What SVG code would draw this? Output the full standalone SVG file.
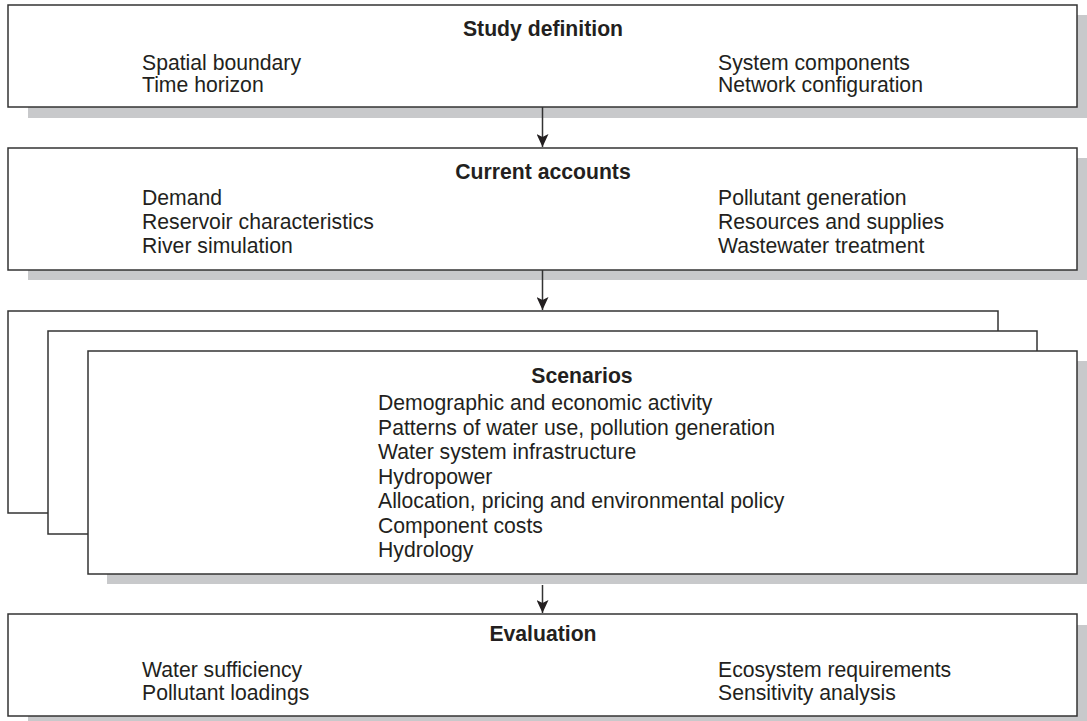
<svg xmlns="http://www.w3.org/2000/svg" width="1087" height="721" viewBox="0 0 1087 721">
<defs>
<style>
.box{fill:#ffffff;stroke:#333333;stroke-width:1.5}
.sh{fill:#c8c9cb;stroke:none}
.t{font-family:"Liberation Sans",Arial,sans-serif;font-size:21.2px;fill:#231f20}
.b{font-weight:bold;text-anchor:middle}
.c{stroke:#333333;stroke-width:1.5;fill:none}
</style>
<marker id="ah" markerWidth="14" markerHeight="12" refX="13" refY="6" orient="auto" markerUnits="userSpaceOnUse" viewBox="0 0 14 12">
<path d="M0,0 L13,6 L0,12 L3,6 Z" fill="#231f20"/>
</marker>
</defs>
<rect width="1087" height="721" fill="#ffffff"/>

<g id="study-definition">
<rect class="sh" x="28" y="15" width="1059" height="103"/>
<rect class="box" x="8" y="5" width="1069" height="102"/>
<text class="t b" x="543" y="36">Study definition</text>
<text class="t" x="142" y="70">Spatial boundary</text>
<text class="t" x="142" y="92">Time horizon</text>
<text class="t" x="718" y="70">System components</text>
<text class="t" x="718" y="92">Network configuration</text>
</g>

<g id="current-accounts">
<rect class="sh" x="28" y="158" width="1059" height="122"/>
<rect class="box" x="8" y="148" width="1069" height="122"/>
<text class="t b" x="543" y="179">Current accounts</text>
<text class="t" x="142" y="205">Demand</text>
<text class="t" x="142" y="229">Reservoir characteristics</text>
<text class="t" x="142" y="253">River simulation</text>
<text class="t" x="718" y="205">Pollutant generation</text>
<text class="t" x="718" y="229">Resources and supplies</text>
<text class="t" x="718" y="253">Wastewater treatment</text>
</g>

<g id="scenarios">
<rect class="box" x="8" y="311" width="990" height="202"/>
<rect class="box" x="48" y="331" width="989" height="203"/>
<rect class="sh" x="107" y="361" width="980" height="223"/>
<rect class="box" x="88" y="351" width="989" height="223"/>
<text class="t b" x="582" y="383">Scenarios</text>
<text class="t" x="378" y="410">Demographic and economic activity</text>
<text class="t" x="378" y="434.5">Patterns of water use, pollution generation</text>
<text class="t" x="378" y="459">Water system infrastructure</text>
<text class="t" x="378" y="483.5">Hydropower</text>
<text class="t" x="378" y="508">Allocation, pricing and environmental policy</text>
<text class="t" x="378" y="532.5">Component costs</text>
<text class="t" x="378" y="557">Hydrology</text>
</g>

<g id="evaluation">
<rect class="sh" x="28" y="625" width="1059" height="96"/>
<rect class="box" x="8" y="614" width="1069" height="102"/>
<text class="t b" x="543" y="641">Evaluation</text>
<text class="t" x="142" y="677">Water sufficiency</text>
<text class="t" x="142" y="700">Pollutant loadings</text>
<text class="t" x="718" y="677">Ecosystem requirements</text>
<text class="t" x="718" y="700">Sensitivity analysis</text>
</g>

<g id="connectors">
<line class="c" x1="542.5" y1="107" x2="542.5" y2="147" marker-end="url(#ah)"/>
<line class="c" x1="542.5" y1="270" x2="542.5" y2="310" marker-end="url(#ah)"/>
<line class="c" x1="542.5" y1="585" x2="542.5" y2="613" marker-end="url(#ah)"/>
</g>
</svg>
